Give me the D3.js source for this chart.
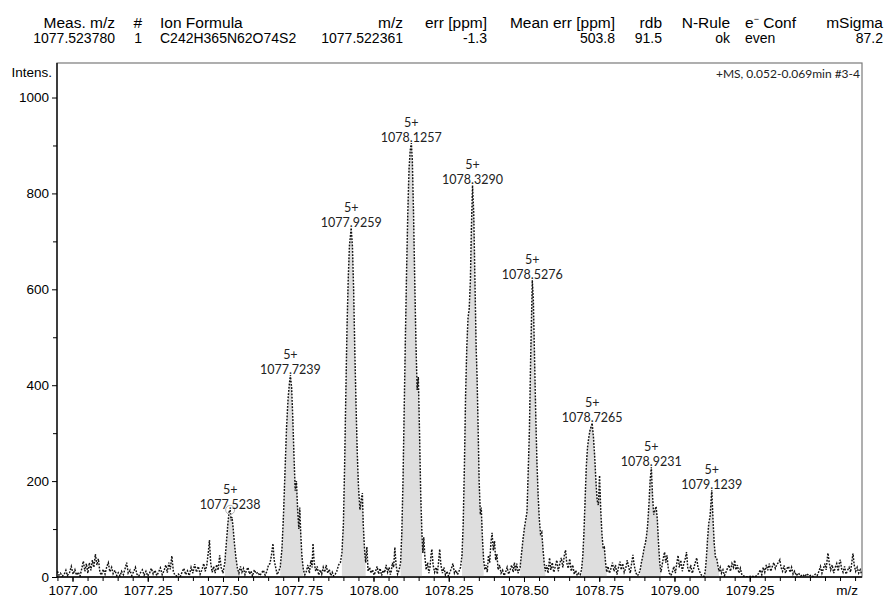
<!DOCTYPE html>
<html>
<head>
<meta charset="utf-8">
<script src="https://cdn.jsdelivr.net/npm/d3@7"></script>
<style>
  body { margin: 0; background: #fff; }
  svg text { font-family: "Liberation Sans", Arial, sans-serif; fill: #000; }
</style>
</head>
<body>
<div id="chart"></div>
<script>
// header table of the formula match
const headerColumns = ['Meas. m/z', '#', 'Ion Formula', 'm/z', 'err [ppm]', 'Mean err [ppm]', 'rdb', 'N-Rule', 'e⁻ Conf', 'mSigma'];
const headerValues = ['1077.523780', '1', 'C242H365N62O74S2', '1077.522361', '-1.3', '503.8', '91.5', 'ok', 'even', '87.2'];

// axis extents and ticks
const mzDomain = [1076.9485, 1079.623];
const intensityDomain = [0, 1072];
const mzMajorTicks = [1077.00, 1077.25, 1077.50, 1077.75, 1078.00, 1078.25, 1078.50, 1078.75, 1079.00, 1079.25];
const intensityMajorTicks = [0, 200, 400, 600, 800, 1000];
const intensityMinorTicks = [100, 300, 500, 700, 900];
const spectrumTitle = '+MS, 0.052-0.069min #3-4';

// annotated isotope peaks
const peakMz = [1077.5238, 1077.7239, 1077.9259, 1078.1257, 1078.3290, 1078.5276, 1078.7265, 1078.9231, 1079.1239];
const peakIntensity = [140, 421, 728, 905, 817, 619, 321, 229, 181];
const peakCharge = ['5+', '5+', '5+', '5+', '5+', '5+', '5+', '5+', '5+'];
const fillStart = [1077.506, 1077.690, 1077.895, 1078.090, 1078.294, 1078.487, 1078.691, 1078.886, 1079.102];
const fillEnd = [1077.553, 1077.767, 1077.974, 1078.161, 1078.366, 1078.571, 1078.775, 1078.955, 1079.148];

// profile spectrum, [m/z, intensity]
const spectrum = [
  [1076.950,12],[1076.955,4],[1076.960,8],[1076.966,2],[1076.972,5],[1076.978,14],[1076.983,3],[1076.990,9],[1076.996,22],
  [1077.002,6],[1077.008,15],[1077.013,4],[1077.019,10],[1077.025,2],[1077.031,18],[1077.036,33],[1077.041,12],[1077.046,28],
  [1077.051,8],[1077.056,30],[1077.061,14],[1077.066,35],[1077.071,20],[1077.076,48],[1077.081,25],[1077.086,38],[1077.091,10],
  [1077.096,4],[1077.102,16],[1077.108,6],[1077.114,22],[1077.119,30],[1077.124,11],[1077.130,20],[1077.135,7],[1077.141,14],
  [1077.147,3],[1077.152,9],[1077.158,2],[1077.163,12],[1077.169,5],[1077.175,18],[1077.180,30],[1077.185,8],[1077.191,14],
  [1077.197,3],[1077.203,11],[1077.209,20],[1077.214,6],[1077.220,2],[1077.226,9],[1077.232,15],[1077.238,4],[1077.244,12],
  [1077.250,2],[1077.256,8],[1077.262,18],[1077.268,6],[1077.274,14],[1077.280,3],[1077.286,10],[1077.292,19],[1077.298,5],
  [1077.304,13],[1077.310,25],[1077.315,9],[1077.320,30],[1077.325,16],[1077.330,44],[1077.335,12],[1077.340,4],[1077.346,2],
  [1077.352,6],[1077.358,1],[1077.364,10],[1077.370,18],[1077.376,5],[1077.382,13],[1077.388,3],[1077.394,20],[1077.400,8],
  [1077.406,27],[1077.412,10],[1077.418,22],[1077.424,6],[1077.430,15],[1077.436,28],[1077.441,12],[1077.446,24],[1077.451,50],
  [1077.455,77],[1077.459,30],[1077.464,10],[1077.469,22],[1077.474,8],[1077.479,26],[1077.484,14],[1077.489,45],[1077.494,20],
  [1077.500,8],
  [1077.506,30],[1077.511,70],[1077.516,110],[1077.520,135],[1077.5238,140],[1077.527,118],[1077.530,125],[1077.534,100],
  [1077.538,70],[1077.543,40],[1077.548,18],[1077.553,8],
  [1077.558,22],[1077.563,10],[1077.568,18],[1077.573,5],[1077.578,14],[1077.583,20],[1077.588,6],[1077.593,12],[1077.598,2],
  [1077.604,15],[1077.610,7],[1077.616,10],[1077.622,3],[1077.628,8],[1077.634,14],[1077.640,4],[1077.646,12],[1077.651,25],
  [1077.656,28],[1077.661,45],[1077.666,70],[1077.670,35],[1077.675,20],[1077.680,5],[1077.685,12],
  [1077.690,20],[1077.696,60],[1077.701,130],[1077.706,220],[1077.711,310],[1077.716,370],[1077.720,400],[1077.7239,421],
  [1077.728,395],[1077.732,330],[1077.736,250],[1077.740,180],[1077.744,200],[1077.748,140],[1077.752,100],[1077.755,145],
  [1077.758,95],[1077.762,45],[1077.767,15],
  [1077.772,5],[1077.777,12],[1077.782,25],[1077.787,8],[1077.792,35],[1077.796,20],[1077.799,70],[1077.803,30],[1077.808,12],
  [1077.813,22],[1077.818,4],[1077.823,15],[1077.828,6],[1077.833,20],[1077.838,10],[1077.843,25],[1077.848,8],[1077.853,16],
  [1077.858,3],[1077.863,10],[1077.868,2],[1077.873,6],[1077.878,12],[1077.884,25],[1077.890,30],
  [1077.895,50],[1077.900,110],[1077.904,230],[1077.908,380],[1077.912,520],[1077.916,620],[1077.920,690],[1077.9259,728],
  [1077.930,690],[1077.934,600],[1077.938,470],[1077.942,360],[1077.946,260],[1077.950,190],[1077.955,140],[1077.959,160],
  [1077.963,175],[1077.966,110],[1077.970,60],[1077.974,30],
  [1077.978,63],[1077.982,12],[1077.987,20],[1077.992,8],[1077.997,15],[1078.002,4],[1078.007,12],[1078.012,22],[1078.017,6],
  [1078.022,18],[1078.027,3],[1078.032,14],[1078.037,9],[1078.042,25],[1078.047,10],[1078.052,20],[1078.056,5],[1078.059,12],
  [1078.063,30],[1078.067,20],[1078.071,62],[1078.075,25],[1078.080,6],[1078.085,14],
  [1078.090,30],[1078.094,90],[1078.098,200],[1078.102,350],[1078.106,500],[1078.110,640],[1078.114,760],[1078.118,850],
  [1078.122,890],[1078.1257,905],[1078.129,870],[1078.133,760],[1078.137,620],[1078.141,490],[1078.145,390],[1078.149,417],
  [1078.153,300],[1078.157,170],[1078.161,90],
  [1078.164,50],[1078.167,83],[1078.171,40],[1078.175,15],[1078.180,30],[1078.184,8],[1078.188,22],[1078.191,45],[1078.194,58],
  [1078.198,25],[1078.203,10],[1078.208,20],[1078.212,6],[1078.216,30],[1078.220,58],[1078.224,25],[1078.229,8],[1078.234,20],
  [1078.239,4],[1078.244,12],[1078.249,2],[1078.254,10],[1078.259,18],[1078.264,28],[1078.269,8],[1078.274,14],[1078.279,5],
  [1078.284,12],[1078.289,20],
  [1078.294,45],[1078.298,110],[1078.302,230],[1078.306,380],[1078.310,480],[1078.314,540],[1078.318,560],[1078.322,620],
  [1078.325,720],[1078.329,817],[1078.333,760],[1078.337,620],[1078.341,480],[1078.344,420],[1078.347,330],[1078.351,200],
  [1078.355,130],[1078.358,145],[1078.362,80],[1078.366,35],
  [1078.370,15],[1078.374,25],[1078.378,10],[1078.382,45],[1078.386,30],[1078.390,70],[1078.394,92],[1078.398,55],[1078.402,75],
  [1078.406,35],[1078.410,48],[1078.414,15],[1078.419,25],[1078.424,8],[1078.429,14],[1078.434,3],[1078.439,10],[1078.444,20],
  [1078.449,6],[1078.454,15],[1078.459,25],[1078.464,10],[1078.468,30],[1078.472,12],[1078.476,28],[1078.480,8],[1078.484,15],
  [1078.487,20],[1078.492,50],[1078.497,80],[1078.502,105],[1078.506,120],[1078.510,136],[1078.514,220],[1078.518,306],
  [1078.522,450],[1078.5276,619],[1078.531,580],[1078.535,460],[1078.539,340],[1078.543,240],[1078.547,170],[1078.551,120],
  [1078.555,90],[1078.559,94],[1078.563,60],[1078.567,30],[1078.571,12],
  [1078.575,25],[1078.580,8],[1078.585,40],[1078.589,15],[1078.594,30],[1078.599,10],[1078.604,22],[1078.609,35],[1078.614,12],
  [1078.619,28],[1078.624,40],[1078.629,20],[1078.634,45],[1078.638,56],[1078.642,30],[1078.647,18],[1078.652,38],[1078.657,12],
  [1078.662,25],[1078.667,6],[1078.672,14],[1078.677,3],[1078.682,8],[1078.687,5],
  [1078.691,15],[1078.695,40],[1078.699,90],[1078.703,160],[1078.707,230],[1078.711,270],[1078.715,290],[1078.719,305],
  [1078.7265,321],[1078.731,290],[1078.735,250],[1078.739,200],[1078.743,160],[1078.747,150],[1078.751,212],[1078.755,140],
  [1078.759,90],[1078.763,60],[1078.767,62],[1078.771,30],[1078.775,10],
  [1078.779,22],[1078.784,8],[1078.789,18],[1078.794,30],[1078.799,12],[1078.804,25],[1078.809,5],[1078.814,20],[1078.819,32],
  [1078.823,15],[1078.828,28],[1078.833,10],[1078.838,18],[1078.843,35],[1078.848,20],[1078.853,8],[1078.858,30],[1078.862,46],
  [1078.866,25],[1078.871,10],[1078.876,3],[1078.881,5],
  [1078.886,15],[1078.890,30],[1078.895,45],[1078.899,60],[1078.903,70],[1078.907,85],[1078.911,110],[1078.915,150],
  [1078.919,200],[1078.9231,229],[1078.927,170],[1078.931,130],[1078.935,140],[1078.939,147],[1078.943,120],[1078.947,70],
  [1078.951,30],[1078.955,10],
  [1078.959,25],[1078.963,40],[1078.967,52],[1078.971,30],[1078.975,45],[1078.979,20],[1078.983,8],[1078.988,3],[1078.993,10],
  [1078.998,22],[1079.003,8],[1079.008,30],[1079.012,45],[1079.016,20],[1079.021,35],[1079.026,12],[1079.031,28],[1079.036,38],
  [1079.040,52],[1079.044,20],[1079.049,10],[1079.054,25],[1079.059,8],[1079.064,18],[1079.069,30],[1079.074,40],[1079.078,20],
  [1079.083,12],[1079.088,5],[1079.093,2],[1079.098,1],
  [1079.102,10],[1079.106,40],[1079.110,80],[1079.114,113],[1079.118,125],[1079.1239,181],[1079.128,120],[1079.132,70],
  [1079.136,42],[1079.140,40],[1079.144,25],[1079.148,12],
  [1079.152,20],[1079.156,8],[1079.161,15],[1079.166,3],[1079.171,10],[1079.176,18],[1079.181,25],[1079.186,12],[1079.191,28],
  [1079.196,20],[1079.200,35],[1079.204,15],[1079.209,25],[1079.214,8],[1079.219,18],[1079.224,4],[1079.229,2],[1079.236,1],
  [1079.246,0],[1079.256,2],[1079.266,0],[1079.274,3],[1079.280,8],[1079.285,15],[1079.290,5],[1079.295,20],[1079.300,10],
  [1079.305,25],[1079.310,14],[1079.315,28],[1079.320,12],[1079.325,22],[1079.330,30],[1079.335,18],[1079.340,26],[1079.345,30],
  [1079.350,36],[1079.354,20],[1079.359,12],[1079.364,24],[1079.369,8],[1079.374,18],[1079.379,22],[1079.384,10],[1079.389,20],
  [1079.394,6],[1079.399,12],[1079.405,3],[1079.412,8],[1079.419,2],[1079.426,5],[1079.433,1],[1079.440,7],[1079.447,2],
  [1079.454,4],[1079.461,1],[1079.468,6],[1079.474,3],[1079.480,12],[1079.485,22],[1079.490,8],[1079.495,18],[1079.500,28],
  [1079.504,15],[1079.507,35],[1079.510,50],[1079.514,30],[1079.519,15],[1079.524,25],[1079.529,8],[1079.534,20],[1079.539,28],
  [1079.544,12],[1079.548,30],[1079.551,36],[1079.555,18],[1079.560,10],[1079.565,22],[1079.570,6],[1079.575,14],[1079.580,20],
  [1079.585,10],[1079.589,30],[1079.593,49],[1079.597,25],[1079.602,12],[1079.607,20],[1079.612,8],[1079.617,15],[1079.622,5]
];

const W = 886;
const H = 597;
const plot = { left: 57, right: 862, top: 63, bottom: 577 };

const svg = d3.select('#chart').append('svg').attr('width', W).attr('height', H).style('background', '#fff');

// header table
const headerX = [115, 142, 160, 403, 487, 615, 662, 730, 745, 883];
const headerAnchor = ['end', 'end', 'start', 'end', 'end', 'end', 'end', 'end', 'start', 'end'];
const head = svg.append('g');
headerColumns.forEach((label, i) => {
  const t = head.append('text').attr('x', headerX[i]).attr('y', 28).attr('text-anchor', headerAnchor[i]).attr('font-size', 15.5);
  if (label.includes('⁻')) {
    const [a, b] = label.split('⁻');
    t.append('tspan').text(a);
    t.append('tspan').attr('dy', -6).attr('font-size', 9).text('−');
    t.append('tspan').attr('dy', 6).text(b);
  } else {
    t.text(label);
  }
  head.append('text').attr('x', headerX[i]).attr('y', 43).attr('text-anchor', headerAnchor[i]).attr('font-size', 14).text(headerValues[i]);
});

const x = d3.scaleLinear().domain(mzDomain).range([plot.left, plot.right]);
const y = d3.scaleLinear().domain(intensityDomain).range([plot.bottom, plot.top]);

// frame
svg.append('rect')
  .attr('x', plot.left).attr('y', plot.top)
  .attr('width', plot.right - plot.left).attr('height', plot.bottom - plot.top)
  .attr('fill', 'none').attr('stroke', '#7a7a7a').attr('stroke-width', 1.2);

svg.append('clipPath').attr('id', 'plot-clip')
  .append('rect').attr('x', plot.left).attr('y', plot.top)
  .attr('width', plot.right - plot.left).attr('height', plot.bottom - plot.top);

const g = svg.append('g').attr('clip-path', 'url(#plot-clip)');

// gray fill under the annotated peaks
const area = d3.area().x((d) => x(d[0])).y0(y(0)).y1((d) => y(d[1]));
peakMz.forEach((_, i) => {
  const pts = spectrum.filter((d) => d[0] >= fillStart[i] && d[0] <= fillEnd[i]);
  g.append('path').attr('d', area(pts)).attr('fill', '#dedede');
});

// profile, drawn dotted
const line = d3.line().x((d) => x(d[0])).y((d) => y(d[1]));
g.append('path')
  .attr('d', line(spectrum))
  .attr('fill', 'none')
  .attr('stroke', '#111')
  .attr('stroke-width', 1.45)
  .attr('stroke-dasharray', '1.8 1.4');

// marker on the measured peak
g.append('circle')
  .attr('cx', x(peakMz[0])).attr('cy', y(peakIntensity[0]))
  .attr('r', 4.5).attr('fill', 'none').attr('stroke', '#b5b5b5').attr('stroke-width', 1);

// peak annotations
const lbl = svg.append('g').attr('text-anchor', 'middle');
peakMz.forEach((mz, i) => {
  const px = x(mz);
  const py = y(peakIntensity[i]);
  lbl.append('text').attr('x', px).attr('y', py - 16).attr('font-size', 12.5)
    .style('font-family', 'Lato, "Open Sans", sans-serif').style('fill', '#222').text(peakCharge[i]);
  lbl.append('text').attr('x', px).attr('y', py - 1).attr('font-size', 12.5)
    .style('font-family', 'Lato, "Open Sans", sans-serif').style('fill', '#222').text(mz.toFixed(4));
});

svg.append('text')
  .attr('x', plot.right - 2).attr('y', 78).attr('text-anchor', 'end').attr('font-size', 12)
  .style('font-family', 'Lato, "Open Sans", sans-serif').style('fill', '#222')
  .text(spectrumTitle);

// axes
const xMinor = d3.range(0, 54).map((k) => 1076.95 + k * 0.05);
const xAxisMinor = svg.append('g').attr('transform', `translate(0,${plot.bottom})`)
  .call(d3.axisBottom(x).tickValues(xMinor).tickSize(4).tickFormat(''));
xAxisMinor.select('.domain').remove();
const xAxis = svg.append('g').attr('transform', `translate(0,${plot.bottom})`)
  .call(d3.axisBottom(x).tickValues(mzMajorTicks).tickSize(5).tickPadding(3).tickFormat(d3.format('.2f')));
xAxis.selectAll('text').attr('font-size', 13.5).style('font-family', '"Liberation Sans", Arial, sans-serif');
xAxis.select('.domain').attr('d', `M${plot.left},0H${plot.right}`).attr('stroke-width', 1.3);

const yAxisMinor = svg.append('g').attr('transform', `translate(${plot.left},0)`)
  .call(d3.axisLeft(y).tickValues(intensityMinorTicks).tickSize(4).tickFormat(''));
yAxisMinor.select('.domain').remove();
const yAxis = svg.append('g').attr('transform', `translate(${plot.left},0)`)
  .call(d3.axisLeft(y).tickValues(intensityMajorTicks).tickSize(5).tickPadding(3).tickFormat(d3.format('d')));
yAxis.selectAll('text').attr('font-size', 13.5).style('font-family', '"Liberation Sans", Arial, sans-serif');
yAxis.select('.domain').attr('d', `M0,${plot.top}V${plot.bottom}`).attr('stroke-width', 1.3);

svg.append('text').attr('x', 52).attr('y', 77).attr('text-anchor', 'end').attr('font-size', 13.5).text('Intens.');
svg.append('text').attr('x', 858).attr('y', 595).attr('text-anchor', 'end').attr('font-size', 13.5).text('m/z');
</script>
</body>
</html>
